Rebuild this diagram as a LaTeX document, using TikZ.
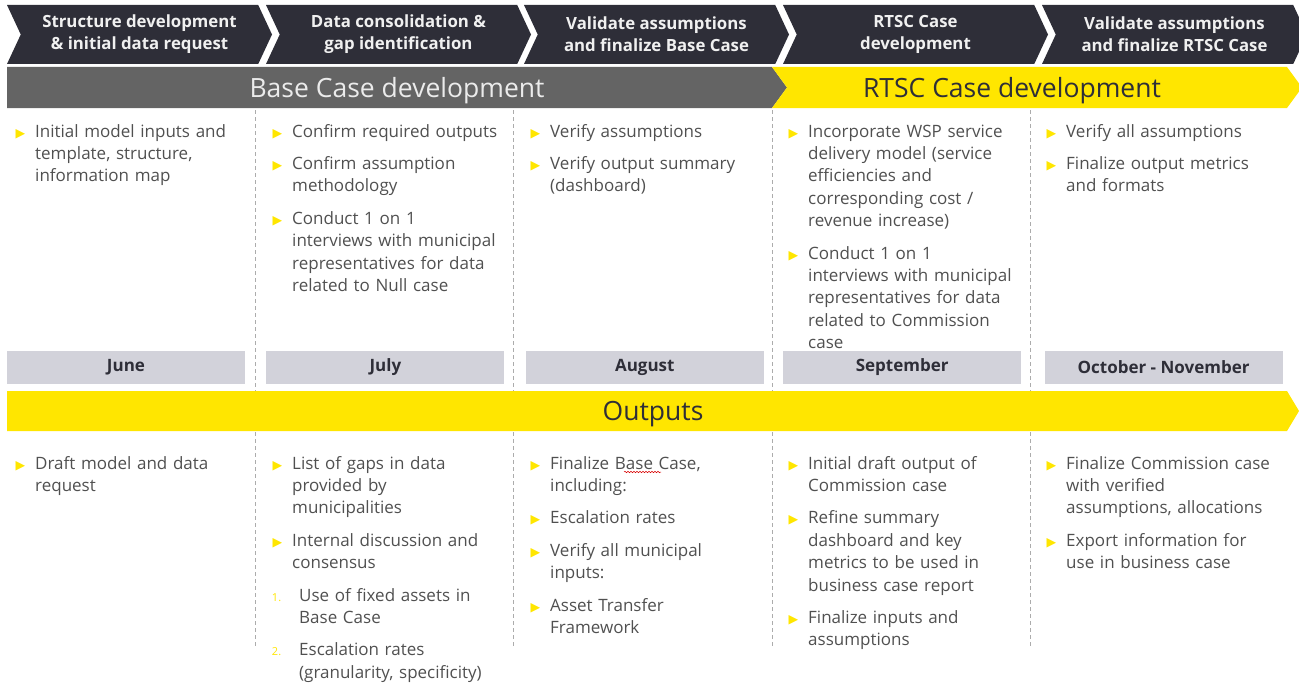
\documentclass[tikz,border=0pt]{standalone}
\usepackage{fontspec}
\setmainfont{Open Sans}
\newfontfamily\symfont{DejaVu Sans}
\usetikzlibrary{shapes.symbols,positioning,decorations.pathmorphing}

\definecolor{eydark}{HTML}{2E2E38}
\definecolor{eygrey}{HTML}{646464}
\definecolor{eyyellow}{HTML}{FFE600}
\definecolor{monthgrey}{HTML}{D2D2DA}
\definecolor{bodytext}{HTML}{505050}

% yellow bullet and yellow number in front of a line
\newcommand{\yb}{\leavevmode\llap{\textcolor{eyyellow}{\symfont\fontsize{12.5}{12.5}\selectfont ▶}\hspace{10pt}}\strut}
\newcommand{\yn}[1]{\leavevmode\llap{\textcolor{eyyellow}{\fontsize{11}{11}\selectfont #1.}\hspace{18pt}}\strut}

\tikzset{
  phase/.style={signal, signal from=west, signal to=east, signal pointer angle=130,
    fill=eydark, text=white!94!black, minimum width=265pt, minimum height=59pt,
    inner sep=0pt, align=center, font=\fontsize{16.8}{22}\selectfont\bfseries},
  bandtext/.style={inner sep=0pt, anchor=base, font=\fontsize{26.5}{30}\selectfont},
  month/.style={fill=monthgrey, minimum width=238pt, minimum height=33pt, inner sep=0pt,
    text=eydark, font=\fontsize{17}{20}\selectfont\bfseries},
  item/.style={anchor=north west, inner sep=0pt, text width=250pt, align=left,
    text=bodytext, font=\fontsize{17}{22.4}\selectfont},
  nextitem/.style={below=9.6pt of #1.south west, anchor=north west},
  nextnum/.style={below=9.6pt of #1.south west, anchor=north west, xshift=7pt},
  sep/.style={draw=gray!65, dash pattern=on 4pt off 3pt, line width=0.8pt},
}

\begin{document}
\begin{tikzpicture}[x=1pt, y=-1pt]
    \clip (0,0) rectangle (1299,685);

    % column separators
    \draw [sep] (255,110) -- (255,648);
    \draw [sep] (513,110) -- (513,648);
    \draw [sep] (772,110) -- (772,648);
    \draw [sep] (1030,110) -- (1030,648);

    % phases
    \node [phase] (ph1) at (139.5,34.5) {Structure development\\\& initial data request};
    \node [phase] (ph2) at (398.5,34.5) {Data consolidation \&\\gap identification};
    \node [phase] (ph3) at (656.5,34.5) {Validate assumptions\\and finalize Base Case};
    \node [phase] (ph4) at (915.5,34.5) {RTSC Case\\development};
    \node [phase] (ph5) at (1174.5,34.5) {Validate assumptions\\and finalize RTSC Case};

    % development bands
    \fill [eygrey] (7,67) -- (772,67) -- (787,87.5) -- (772,108) -- (7,108) -- cycle;
    \fill [eyyellow] (772,67) -- (1287,67) -- (1302,87.5) -- (1287,108) -- (772,108) -- (787,87.5) -- cycle;
    \node [bandtext, text=white!92!black] (base) at (397,97) {Base Case development};
    \node [bandtext, text=eydark] (rtsc) at (1012,97) {RTSC Case development};

    % activities
    \node [item] (t1a) at (35,121.3) {\yb Initial model inputs and\\template, structure,\\information map\strut};

    \node [item] (t2a) at (292,121.3) {\yb Confirm required outputs\strut};
    \node [item, nextitem=t2a] (t2b) {\yb Confirm assumption\\methodology\strut};
    \node [item, nextitem=t2b] (t2c) {\yb Conduct 1 on 1\\interviews with municipal\\representatives for data\\related to Null case\strut};

    \node [item] (t3a) at (550,121.3) {\yb Verify assumptions\strut};
    \node [item, nextitem=t3a] (t3b) {\yb Verify output summary\\(dashboard)\strut};

    \node [item] (t4a) at (808,121.3) {\yb Incorporate WSP service\\delivery model (service\\efficiencies and\\corresponding cost /\\revenue increase)\strut};
    \node [item, nextitem=t4a] (t4b) {\yb Conduct 1 on 1\\interviews with municipal\\representatives for data\\related to Commission\\case\strut};

    \node [item] (t5a) at (1066,121.3) {\yb Verify all assumptions\strut};
    \node [item, nextitem=t5a] (t5b) {\yb Finalize output metrics\\and formats\strut};

    % months
    \node [month] (jun) at (126,367.5) {June};
    \node [month, right=21pt of jun] (jul) {July};
    \node [month, right=21pt of jul] (aug) {August};
    \node [month, right=19pt of aug] (sep) {September};
    \node [month, right=23pt of sep] (octnov) {October - November};

    % outputs band
    \fill [eyyellow] (7,391) -- (1287,391) -- (1299,411) -- (1287,431) -- (7,431) -- cycle;
    \node [bandtext, text=eydark] (outp) at (653,420) {Outputs};

    % outputs
    \node [item] (o1a) at (35,453.3) {\yb Draft model and data\\request\strut};

    \node [item] (o2a) at (292,453.3) {\yb List of gaps in data\\provided by\\municipalities\strut};
    \node [item, nextitem=o2a] (o2b) {\yb Internal discussion and\\consensus\strut};
    \node [item, nextnum=o2b] (o2c) {\yn{1}Use of fixed assets in\\Base Case\strut};
    \node [item, nextitem=o2c] (o2d) {\yn{2}Escalation rates\\(granularity, specificity)\strut};

    \node [item] (o3a) at (550,453.3) {\yb Finalize Base Case,\\including:\strut};
    \node [item, nextitem=o3a] (o3b) {\yb Escalation rates\strut};
    \node [item, nextitem=o3b] (o3c) {\yb Verify all municipal\\inputs:\strut};
    \node [item, nextitem=o3c] (o3d) {\yb Asset Transfer\\Framework\strut};
    \draw [red!85!black, line width=0.5pt, decorate,
           decoration={snake, amplitude=0.7pt, segment length=3pt}] (624,472) -- (661,472);

    \node [item] (o4a) at (808,453.3) {\yb Initial draft output of\\Commission case\strut};
    \node [item, nextitem=o4a] (o4b) {\yb Refine summary\\dashboard and key\\metrics to be used in\\business case report\strut};
    \node [item, nextitem=o4b] (o4c) {\yb Finalize inputs and\\assumptions\strut};

    \node [item] (o5a) at (1066,453.3) {\yb Finalize Commission case\\with verified\\assumptions, allocations\strut};
    \node [item, nextitem=o5a] (o5b) {\yb Export information for\\use in business case\strut};
\end{tikzpicture}
\end{document}
